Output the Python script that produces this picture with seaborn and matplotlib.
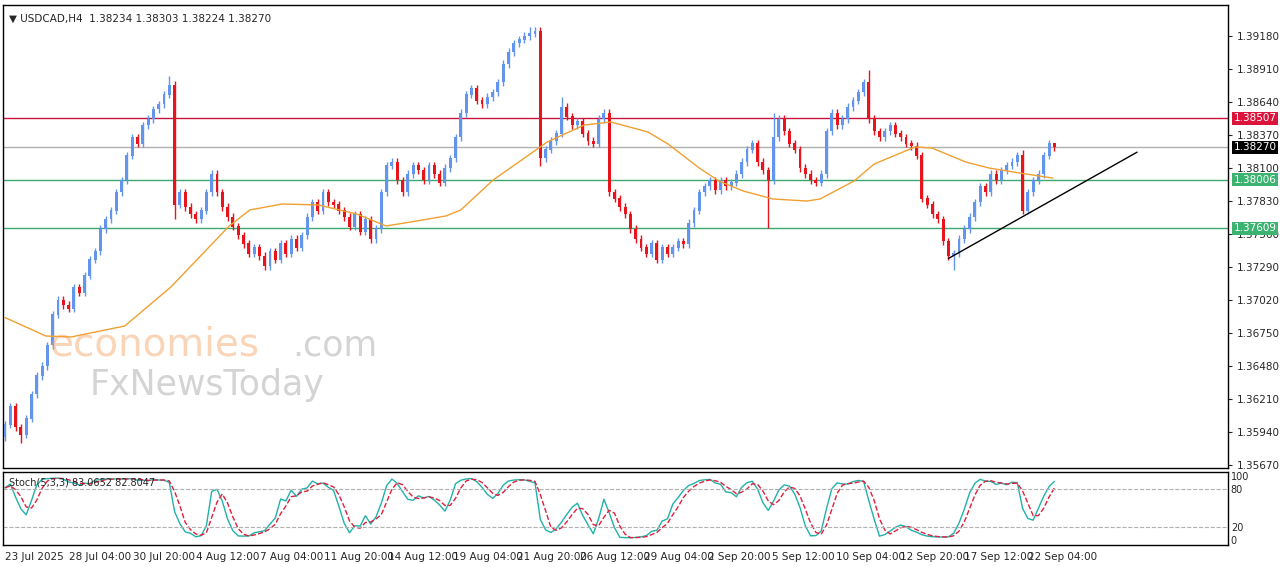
import matplotlib
matplotlib.use("Agg")
import matplotlib.pyplot as plt
import seaborn as sns
import numpy as np
import pandas as pd

sns.set_style("white")
plt.rcParams['font.family'] = ['DejaVu Sans']

closes = [1.3600,1.3615,1.3598,1.3592,1.3605,1.3625,1.3640,1.3648,1.3665,1.3690,
 1.3702,1.3698,1.3695,1.3712,1.3708,1.3722,1.3735,1.3742,1.3760,1.3768,
 1.3775,1.3790,1.3800,1.3820,1.3835,1.3830,1.3845,1.3850,1.3858,1.3862,1.3870,1.3878,
 1.3780,
 1.3790,1.3778,1.3772,1.3768,1.3775,1.3790,1.3805,1.3790,1.3778,1.3770,
 1.3762,1.3755,1.3748,1.3740,1.3745,1.3738,1.3730,1.3742,1.3735,1.3748,
 1.3740,1.3752,1.3745,1.3755,1.3770,1.3782,1.3775,1.3790,1.3782,1.3780,
 1.3775,1.3770,1.3762,1.3772,1.3758,1.3768,1.3752,1.3760,1.3790,1.3812,
 1.3815,1.3800,1.3790,1.3805,1.3812,1.3808,1.3800,1.3812,1.3805,1.3798,
 1.3810,1.3818,1.3835,1.3855,1.3870,1.3875,1.3865,1.3862,1.3868,1.3872,
 1.3880,1.3895,1.3905,1.3912,1.3915,1.3918,1.3920,1.3922,1.3818,
 1.3825,1.3832,1.3838,1.3860,1.3852,1.3845,1.3848,1.3838,1.3832,1.3830,
 1.3850,1.3855,1.3790,
 1.3785,1.3778,1.3772,1.3760,1.3752,1.3745,1.3740,1.3748,1.3735,1.3745,
 1.3740,1.3745,1.3750,1.3748,1.3765,1.3775,1.3790,1.3795,1.3800,1.3792,
 1.3800,1.3795,1.3798,1.3805,1.3815,1.3825,1.3830,1.3815,1.3808,1.3800,
 1.3835,1.3850,1.3840,1.3830,1.3825,1.3810,1.3805,1.3800,1.3798,1.3805,
 1.3840,1.3855,1.3845,1.3850,1.3860,1.3865,1.3872,1.3880,1.3850,1.3840,
 1.3835,1.3840,1.3845,1.3838,1.3835,1.3830,1.3828,1.3820,
 1.3785,1.3780,1.3772,1.3768,1.3750,1.3738,1.3740,1.3752,1.3760,1.3770,
 1.3782,1.3795,1.3790,1.3805,1.3800,1.3808,1.3812,1.3815,1.3820,1.3775,
 1.3790,1.3800,1.3805,1.3820,1.3830,1.3827]
first_open = 1.3590
base_wick = 0.0003
high_override = {31: 1.3885, 99: 1.3925, 105: 1.3868, 145: 1.3855, 163: 1.3890, 192: 1.3825, 198: 1.38303}
low_override = {3: 1.3585, 144: 1.3761, 179: 1.3727, 32: 1.3768, 101: 1.3812}

ma_bar = [0,7.7,12.5,22.6,31.3,42.3,46.2,52.3,59.1,66.4,71.9,76.6,83.2,86.0,92.1,102.3,109.3,114.3,121.3,
          125.1,131.0,134.7,139.3,144.9,151.3,153.8,160.2,164.0,168.5,171.7,174.9,181.3,185.7,191.5,197.7]
ma_val = [1.36877,1.36726,1.36718,1.36808,1.37127,1.37626,1.37757,1.37806,1.37798,1.37724,1.37626,1.37659,
          1.37708,1.37757,1.38002,1.38313,1.38452,1.38477,1.38395,1.38297,1.38100,1.37994,1.37912,1.37847,
          1.37830,1.37847,1.37994,1.38133,1.38215,1.38272,1.38264,1.38149,1.38100,1.38059,1.38018]

levels = [1.38507, 1.38270, 1.38006, 1.37609]
level_colors = ['#C8143C', '#B0B0B0', '#3CA870', '#3CA870']
label_bg = ['#DC143C', '#000000', '#3CB371', '#3CB371']
yticks = [1.39180,1.38910,1.38640,1.38370,1.38100,1.37830,1.37560,1.37290,1.37020,1.36750,1.36480,1.36210,1.35940,1.35670]
xtick_px = [5,69,133,196,260,324,388,453,517,580,644,708,772,836,900,964,1028]
xtick_labels = ['23 Jul 2025','28 Jul 04:00','30 Jul 20:00','4 Aug 12:00','7 Aug 04:00','11 Aug 20:00',
 '14 Aug 12:00','19 Aug 04:00','21 Aug 20:00','26 Aug 12:00','29 Aug 04:00','2 Sep 20:00',
 '5 Sep 12:00','10 Sep 04:00','12 Sep 20:00','17 Sep 12:00','22 Sep 04:00']
trend_x = [178, 213.6]
trend_y = [1.3736, 1.3823]

n = len(closes)
c = np.array(closes)
o = np.concatenate([[first_open], c[:-1]])
h = np.maximum(o, c) + base_wick
l = np.minimum(o, c) - base_wick
for k, v in high_override.items(): h[k] = v
for k, v in low_override.items(): l[k] = v
idx = np.arange(n)
df = pd.DataFrame({'i': idx, 'o': o, 'h': h, 'l': l, 'c': c})
hh = df['h'].rolling(5, min_periods=1).max(); ll = df['l'].rolling(5, min_periods=1).min()
num = (df['c'] - ll).rolling(3, min_periods=1).sum(); den = (hh - ll).rolling(3, min_periods=1).sum()
df['k'] = 100 * num / den
df['d'] = df['k'].rolling(3, min_periods=1).mean()
ma_df = pd.DataFrame({'i': ma_bar, 'ma': ma_val})

W, H = 1280, 567
fig = plt.figure(figsize=(12.8, 5.67), dpi=100)
px = 5.3
def xl(p): return (p - 5) / px
ax = fig.add_axes([3/W, 1-468/H, 1225/W, 463/H])
ax2 = fig.add_axes([3/W, 1-545/H, 1225/W, 73/H])
for a in (ax, ax2):
    a.set_xlim(xl(3), xl(1228))
    for s in a.spines.values(): s.set_color('black'); s.set_linewidth(1)
ax.set_ylim(1.35646, 1.39434)

up = c >= o
col = np.where(up, '#6495ED', '#E8141C')
ax.vlines(idx, l, h, colors=col, linewidth=1, zorder=3)
ax.bar(idx, np.abs(c - o) + 0.00003, bottom=np.minimum(o, c), width=0.55, color=col, zorder=4, linewidth=0)
sns.lineplot(data=ma_df, x='i', y='ma', ax=ax, color='#F0A030', linewidth=1, zorder=5)
for lv, lc in zip(levels, level_colors):
    ax.axhline(lv, color=lc, linewidth=1, zorder=2)
ax.plot(trend_x, trend_y, color='black', linewidth=1, zorder=6)

ax.yaxis.tick_right()
ax.set_yticks(yticks)
ax.set_yticklabels([f'{t:.5f}' for t in yticks], fontsize=7.5)
ax.tick_params(axis='y', length=3, pad=3)
ax.set_xticks([])
ax.set_xlabel(''); ax.set_ylabel('')
for lv, bg in zip(levels, label_bg):
    ax.text(1.0045, lv, f'{lv:.5f}', transform=ax.get_yaxis_transform(), fontsize=7.5, color='white',
            va='center', ha='left', bbox=dict(boxstyle='square,pad=0.15', fc=bg, ec='none'), zorder=10)
ax.text(0.005, 0.982, '\u25BC USDCAD,H4  1.38234 1.38303 1.38224 1.38270', transform=ax.transAxes,
        fontsize=7.5, va='top')
fig.text(50/W, 1-345/H, 'economies', fontsize=28, color='#F3A060', alpha=0.45, va='center', ha='left')
fig.text(292/W, 1-345/H, '.com', fontsize=25, color='#A0A0A0', alpha=0.45, va='center', ha='left')
fig.text(90/W, 1-385/H, 'FxNewsToday', fontsize=25, color='#A0A0A0', alpha=0.45, va='center', ha='left')

sns.lineplot(data=df, x='i', y='k', ax=ax2, color='#20B2AA', linewidth=1)
sns.lineplot(data=df, x='i', y='d', ax=ax2, color='#E0203C', linewidth=1, linestyle='--')
ax2.set_ylim(-8, 106)
for lv in (80, 20):
    ax2.axhline(lv, color='#B0B0B0', linewidth=0.8, linestyle='--')
ax2.yaxis.tick_right()
ax2.set_yticks([100, 80, 20, 0])
ax2.set_yticklabels(['100', '80', '20', '0'], fontsize=7)
ax2.tick_params(axis='y', length=0, pad=2)
ax2.set_xticks([xl(p) for p in xtick_px])
ax2.set_xticklabels(xtick_labels, fontsize=7.5, ha='left')
ax2.tick_params(axis='x', length=3, pad=2)
ax2.set_xlabel(''); ax2.set_ylabel('')
ax2.text(0.005, 0.92, 'Stoch(5,3,3) 83.0652 82.8047', transform=ax2.transAxes, fontsize=7, va='top')

fig.savefig('out.png', dpi=100)
